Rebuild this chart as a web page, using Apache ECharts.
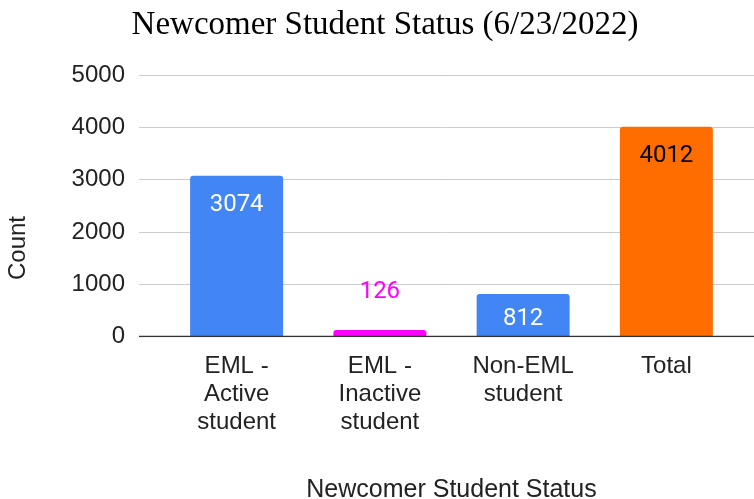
<!DOCTYPE html>
<html><head><meta charset="utf-8">
<script src="https://cdn.jsdelivr.net/npm/echarts@6/dist/echarts.min.js"></script>
<style>html,body{margin:0;padding:0;background:#fff}#c{width:754px;height:499px}</style>
</head><body><div id="c"></div>
<script>
const categories = ['EML -\nActive\nstudent', 'EML -\nInactive\nstudent', 'Non-EML\nstudent', 'Total'];
const values = [3074, 126, 812, 4012];
const barColors = ['#4285F4', '#FF00FF', '#4285F4', '#FF6D01'];
const labelColors = ['#ffffff', '#FF00FF', '#ffffff', '#000000'];
const labelPos = ['insideTop', 'top', 'insideTop', 'insideTop'];
const labelDist = [17, 26, 13, 17];
const yTicks = [0, 1000, 2000, 3000, 4000, 5000];

const chart = echarts.init(document.getElementById('c'));
chart.setOption({
  animation: false,
  title: {
    text: 'Newcomer Student Status (6/23/2022)',
    left: 380, top: 4, textAlign: 'center',
    textStyle: {fontFamily: 'Liberation Serif', fontSize: 33, fontWeight: 'normal', color: '#000'}
  },
  graphic: [{
    type: 'text', x: 6, y: 248, rotation: Math.PI / 2,
    style: {text: 'Count', font: '24px "Liberation Sans"', fill: '#222', align: 'center', verticalAlign: 'top'}
  }],
  grid: [
    {left: 139, right: 0, top: 75, bottom: 162.5, outerBoundsMode: 'none', containLabel: false},
    {left: 165, right: 16, top: 75, bottom: 162.5, outerBoundsMode: 'none', containLabel: false}
  ],
  xAxis: [
    {gridIndex: 0, type: 'value', show: false, min: 0, max: 1},
    {gridIndex: 1, type: 'category', data: categories,
     axisLine: {show: false}, axisTick: {show: false},
     axisLabel: {fontFamily: 'Liberation Sans', fontSize: 24, color: '#222', lineHeight: 28, margin: 16, interval: 0},
     name: 'Newcomer Student Status', nameLocation: 'middle', nameGap: 141,
     nameTextStyle: {fontFamily: 'Liberation Sans', fontSize: 25, color: '#222'}}
  ],
  yAxis: [
    {gridIndex: 0, type: 'value', min: yTicks[0], max: yTicks[yTicks.length - 1], interval: 1000,
     axisLine: {show: false}, axisTick: {show: false},
     axisLabel: {fontFamily: 'Liberation Sans', fontSize: 24, color: '#222', margin: 14, formatter: v => String(v)},
     splitLine: {lineStyle: {color: '#cccccc', width: 1}}},
    {gridIndex: 1, type: 'value', min: 0, max: 5000, show: false}
  ],
  series: [
    {type: 'line', xAxisIndex: 0, yAxisIndex: 0, data: [[0, 0], [1, 0]], symbol: 'none',
     lineStyle: {color: '#333', width: 1.5}, silent: true, z: 5},
    {type: 'bar', xAxisIndex: 1, yAxisIndex: 1, barWidth: 93,
     data: values.map((v, i) => ({
       value: v,
       itemStyle: {color: barColors[i], borderRadius: [3, 3, 0, 0]},
       label: {show: true, position: labelPos[i], distance: labelDist[i],
               color: labelColors[i], fontFamily: 'Roboto', fontSize: 24}
     }))}
  ]
});
</script></body></html>
